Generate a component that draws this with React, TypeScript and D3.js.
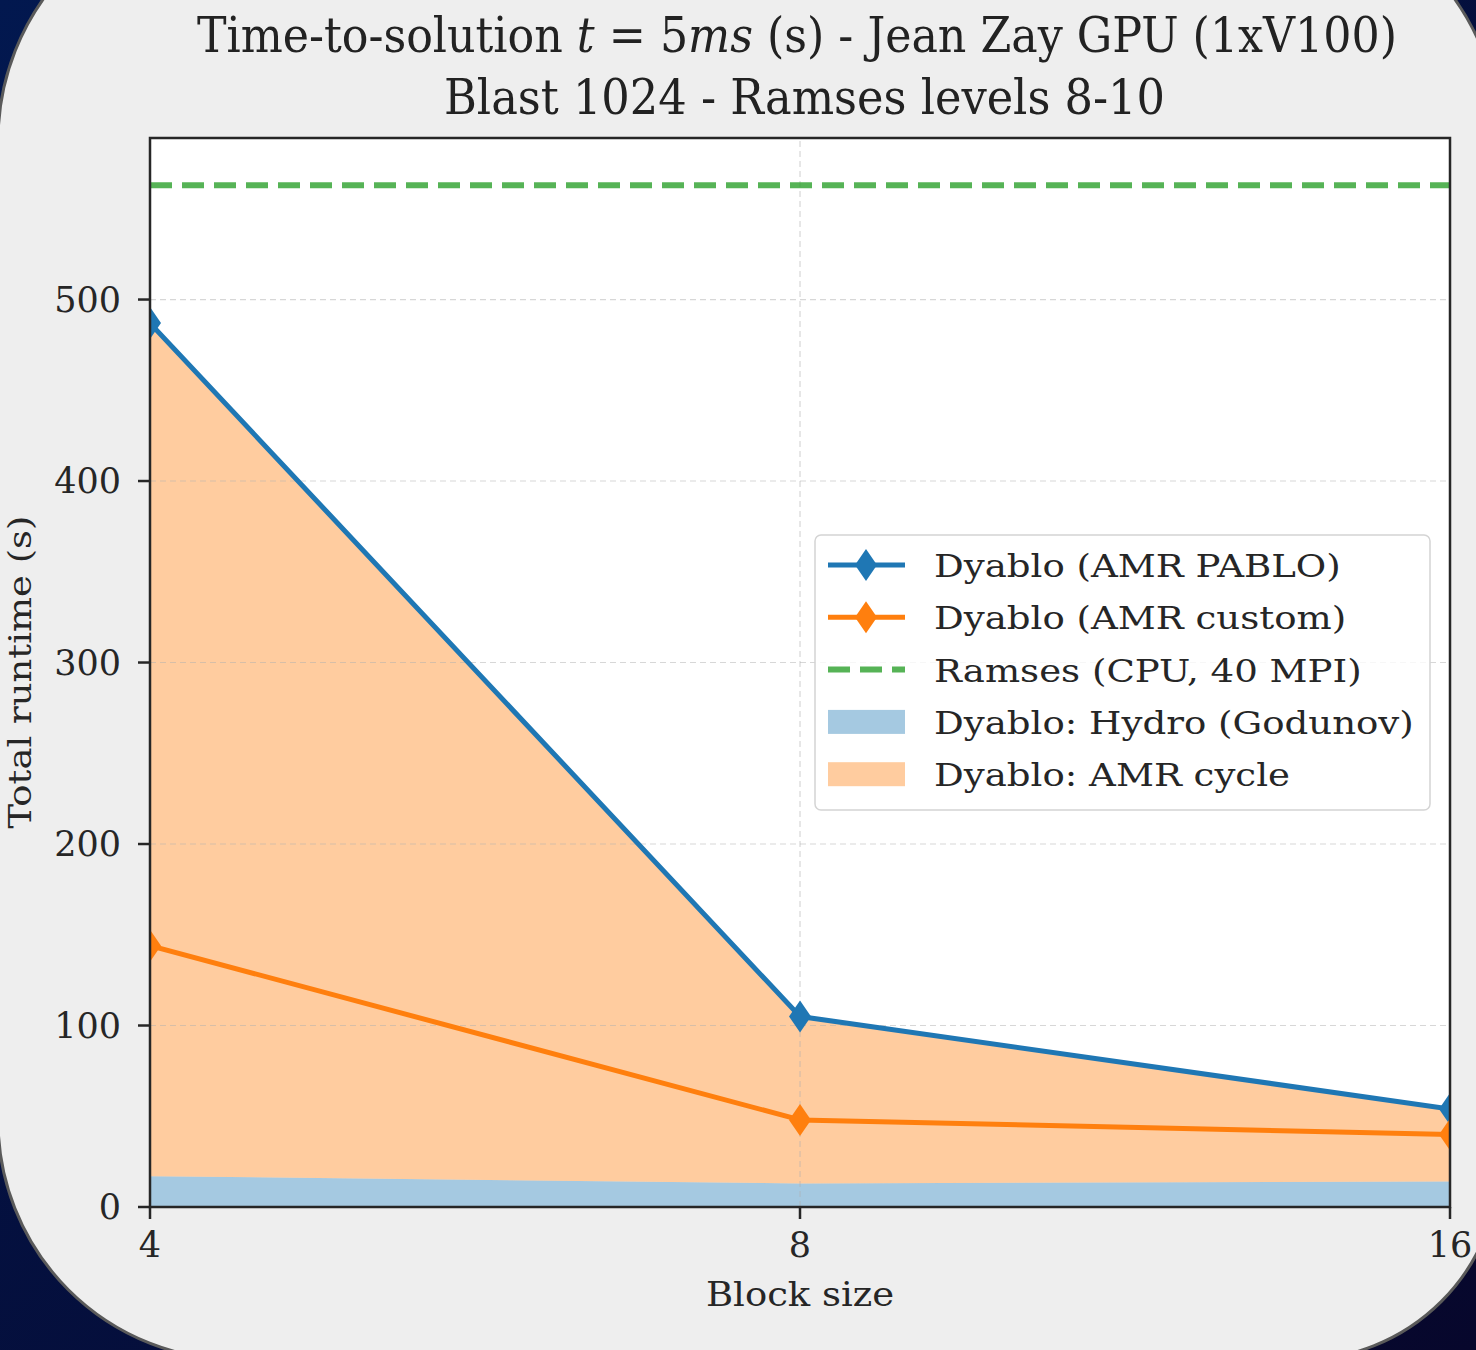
import React, { useEffect, useRef } from 'react';
import * as d3 from 'd3';

// block sizes on the x axis (log2 spaced)
const blockSizes = [4, 8, 16];
// Dyablo total runtimes (s)
const pabloRuntime = [487, 105, 54];
const customRuntime = [144, 48, 40];
// stacked breakdown of the PABLO run
const hydroTime = [17, 13, 14];
const amrCycleTime = [470, 92, 40];
// Ramses reference (CPU, 40 MPI)
const ramsesRuntime = 563;
const yTicks = [0, 100, 200, 300, 400, 500];

const legendItems = [
  { label: 'Dyablo (AMR PABLO)', kind: 'line', color: '#1f77b4' },
  { label: 'Dyablo (AMR custom)', kind: 'line', color: '#ff7f0e' },
  { label: 'Ramses (CPU, 40 MPI)', kind: 'dash', color: '#2ca02c' },
  { label: 'Dyablo: Hydro (Godunov)', kind: 'patch', color: '#1f77b4' },
  { label: 'Dyablo: AMR cycle', kind: 'patch', color: '#ff7f0e' },
];

const App: React.FC = () => {
  const ref = useRef<SVGSVGElement | null>(null);

  useEffect(() => {
    if (!ref.current) return;
    const width = 1476;
    const height = 1350;
    const margin = { top: 138, right: 26, bottom: 143, left: 150 };
    const serif = "'DejaVu Serif', serif";
    const ink = '#262626';

    const svg = d3.select(ref.current);
    svg.selectAll('*').remove();
    svg.attr('width', width).attr('height', height);

    const defs = svg.append('defs');
    const grad = defs.append('linearGradient').attr('id', 'navy')
      .attr('x1', 0).attr('y1', 0).attr('x2', 1).attr('y2', 1);
    grad.append('stop').attr('offset', '0%').attr('stop-color', '#02184f');
    grad.append('stop').attr('offset', '100%').attr('stop-color', '#07072c');

    svg.append('rect').attr('width', width).attr('height', height).attr('fill', 'url(#navy)');

    // rounded slide panel
    const L = -2, T = -104, R = 1500, B = 1360;
    const rTL = 245, rTR = 245, rBR = 200, rBL = 240;
    const panel = `M${L + rTL},${T} H${R - rTR} A${rTR},${rTR} 0 0 1 ${R},${T + rTR} V${B - rBR} A${rBR},${rBR} 0 0 1 ${R - rBR},${B} H${L + rBL} A${rBL},${rBL} 0 0 1 ${L},${B - rBL} V${T + rTL} A${rTL},${rTL} 0 0 1 ${L + rTL},${T} Z`;
    svg.append('path').attr('d', panel).attr('fill', '#eeeeee').attr('stroke', '#5a5a5a').attr('stroke-width', 3);

    const x0 = margin.left, x1 = width - margin.right;
    const y0 = height - margin.bottom, y1 = margin.top;

    const x = d3.scaleLog().base(2).domain([4, 16]).range([x0, x1]);
    const y = d3.scaleLinear().domain([0, 589]).range([y0, y1]);

    defs.append('clipPath').attr('id', 'plot')
      .append('rect').attr('x', x0).attr('y', y1).attr('width', x1 - x0).attr('height', y0 - y1);

    svg.append('rect').attr('x', x0).attr('y', y1).attr('width', x1 - x0).attr('height', y0 - y1).attr('fill', '#ffffff');

    const plot = svg.append('g').attr('clip-path', 'url(#plot)');

    // stacked areas
    const rows = blockSizes.map((b, i) => ({ b, hydro: hydroTime[i], amr: amrCycleTime[i] }));
    const stacked = d3.stack<any>().keys(['hydro', 'amr'])(rows);
    const area = d3.area<any>()
      .x(d => x(d.data.b))
      .y0(d => y(d[0]))
      .y1(d => y(d[1]));
    const fills = ['#1f77b4', '#ff7f0e'];
    stacked.forEach((s, i) => {
      plot.append('path').attr('d', area(s) as string).attr('fill', fills[i]).attr('fill-opacity', 0.4);
    });

    // grid
    const grid = plot.append('g').attr('stroke', '#b0b0b0').attr('stroke-opacity', 0.5)
      .attr('stroke-width', 1.2).attr('stroke-dasharray', '6,4');
    yTicks.forEach(t => {
      grid.append('line').attr('x1', x0).attr('x2', x1).attr('y1', y(t)).attr('y2', y(t));
    });
    blockSizes.forEach(b => {
      grid.append('line').attr('x1', x(b)).attr('x2', x(b)).attr('y1', y0).attr('y2', y1);
    });

    // lines with thin diamond markers
    const line = d3.line<number>().x((d, i) => x(blockSizes[i])).y(d => y(d));
    const diamond = (cx: number, cy: number) =>
      `M${cx},${cy - 16} L${cx + 11},${cy} L${cx},${cy + 16} L${cx - 11},${cy} Z`;
    const series = [
      { values: pabloRuntime, color: '#1f77b4' },
      { values: customRuntime, color: '#ff7f0e' },
    ];
    series.forEach(s => {
      plot.append('path').attr('d', line(s.values) as string).attr('fill', 'none')
        .attr('stroke', s.color).attr('stroke-width', 5).attr('stroke-linejoin', 'round');
      s.values.forEach((v, i) => {
        plot.append('path').attr('d', diamond(x(blockSizes[i]), y(v))).attr('fill', s.color);
      });
    });

    // Ramses reference
    plot.append('line').attr('x1', x0).attr('x2', x1)
      .attr('y1', y(ramsesRuntime)).attr('y2', y(ramsesRuntime))
      .attr('stroke', '#2ca02c').attr('stroke-opacity', 0.8)
      .attr('stroke-width', 6).attr('stroke-dasharray', '22,10');

    // frame
    svg.append('rect').attr('x', x0).attr('y', y1).attr('width', x1 - x0).attr('height', y0 - y1)
      .attr('fill', 'none').attr('stroke', ink).attr('stroke-width', 2.5);

    // y ticks
    yTicks.forEach(t => {
      svg.append('line').attr('x1', x0 - 12).attr('x2', x0).attr('y1', y(t)).attr('y2', y(t))
        .attr('stroke', ink).attr('stroke-width', 2.5);
      svg.append('text').attr('x', x0 - 29).attr('y', y(t) + 12).attr('text-anchor', 'end')
        .attr('font-family', serif).attr('font-size', 35).attr('fill', ink).text(t);
    });
    // x ticks
    blockSizes.forEach(b => {
      svg.append('line').attr('x1', x(b)).attr('x2', x(b)).attr('y1', y0).attr('y2', y0 + 12)
        .attr('stroke', ink).attr('stroke-width', 2.5);
      svg.append('text').attr('x', x(b)).attr('y', y0 + 50).attr('text-anchor', 'middle')
        .attr('font-family', serif).attr('font-size', 35).attr('fill', ink).text(b);
    });

    svg.append('text').attr('transform', `translate(${(x0 + x1) / 2},1306) scale(1.12,1)`)
      .attr('text-anchor', 'middle')
      .attr('font-family', serif).attr('font-size', 33).attr('fill', ink).text('Block size');
    svg.append('text').attr('transform', `translate(31,${(y0 + y1) / 2}) rotate(-90)`)
      .attr('x', -156).attr('textLength', 313).attr('lengthAdjust', 'spacingAndGlyphs')
      .attr('font-family', serif).attr('font-size', 32)
      .attr('fill', ink).text('Total runtime (s)');

    // title
    const t1 = svg.append('text').attr('x', 197).attr('y', 52)
      .attr('font-family', serif).attr('font-stretch', 'condensed').attr('font-size', 48)
      .attr('fill', '#222').attr('textLength', 1200).attr('lengthAdjust', 'spacingAndGlyphs');
    t1.append('tspan').text('Time-to-solution ');
    t1.append('tspan').attr('font-style', 'italic').text('t');
    t1.append('tspan').text(' = 5');
    t1.append('tspan').attr('font-style', 'italic').text('ms');
    t1.append('tspan').text(' (s) - Jean Zay GPU (1xV100)');
    svg.append('text').attr('x', 444).attr('y', 114)
      .attr('font-family', serif).attr('font-stretch', 'condensed').attr('font-size', 48)
      .attr('fill', '#222').attr('textLength', 721).attr('lengthAdjust', 'spacingAndGlyphs')
      .text('Blast 1024 - Ramses levels 8-10');

    // legend
    const lg = svg.append('g');
    lg.append('rect').attr('x', 815).attr('y', 535).attr('width', 615).attr('height', 275)
      .attr('rx', 6).attr('fill', '#ffffff').attr('fill-opacity', 0.8)
      .attr('stroke', '#d4d4d4').attr('stroke-width', 1.5);
    legendItems.forEach((it, i) => {
      const cy = 565 + i * 52.3;
      if (it.kind === 'line') {
        lg.append('line').attr('x1', 828).attr('x2', 905).attr('y1', cy).attr('y2', cy)
          .attr('stroke', it.color).attr('stroke-width', 5);
        lg.append('path').attr('d', diamond(866, cy)).attr('fill', it.color);
      } else if (it.kind === 'dash') {
        lg.append('line').attr('x1', 828).attr('x2', 905).attr('y1', cy).attr('y2', cy)
          .attr('stroke', it.color).attr('stroke-opacity', 0.8).attr('stroke-width', 6)
          .attr('stroke-dasharray', '22,10');
      } else {
        lg.append('rect').attr('x', 828).attr('y', cy - 12).attr('width', 77).attr('height', 24)
          .attr('fill', it.color).attr('fill-opacity', 0.4);
      }
      lg.append('text').attr('transform', `translate(934,${cy + 12}) scale(1.16,1)`)
        .attr('font-family', serif).attr('font-size', 32).attr('fill', ink).text(it.label);
    });
  }, []);

  return <svg ref={ref} style={{ position: 'absolute', left: 0, top: 0, display: 'block' }}></svg>;
};

export default App;
